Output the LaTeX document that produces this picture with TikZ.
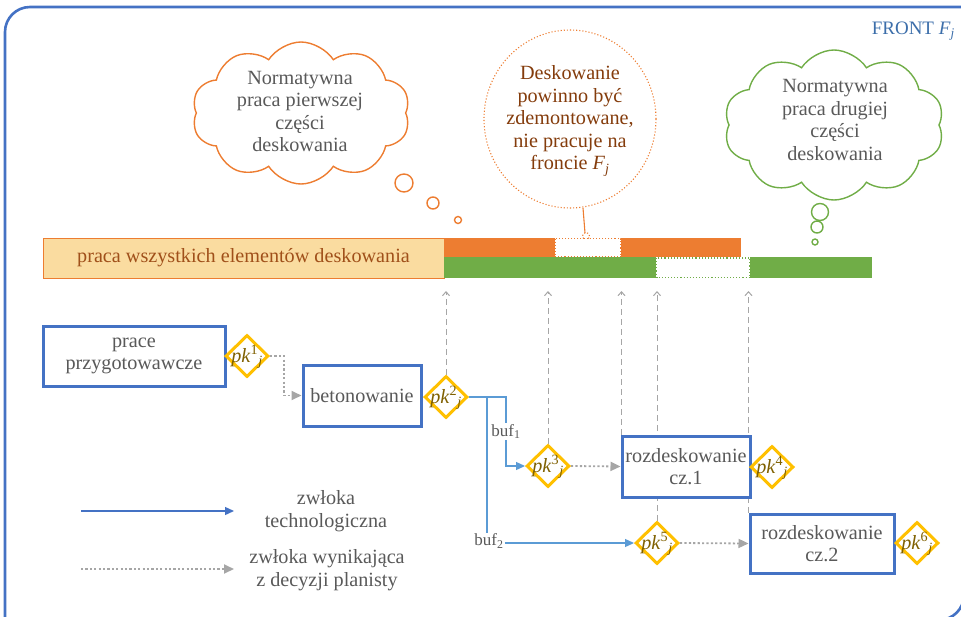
\documentclass[tikz,border=0pt]{standalone}
\usepackage{fontspec}
\setmainfont{Liberation Serif}
\usetikzlibrary{shapes.symbols,shapes.geometric,arrows.meta,calc,backgrounds}
\definecolor{frameblue}{HTML}{4472C4}
\definecolor{boxblue}{HTML}{4472C4}
\definecolor{lineblue}{HTML}{5B9BD5}
\definecolor{orng}{HTML}{ED7D31}
\definecolor{grn}{HTML}{70AD47}
\definecolor{beige}{HTML}{FADCA0}
\definecolor{txtgray}{HTML}{595959}
\definecolor{brn}{HTML}{843C0C}
\definecolor{barbrn}{HTML}{A0501A}
\definecolor{gld}{HTML}{FFC000}
\definecolor{gldtxt}{HTML}{7F6000}
\definecolor{lgray}{HTML}{A6A6A6}
\definecolor{titleblue}{HTML}{3C6EAA}
\newcommand\fs{\fontsize{20.2}{22.5}\selectfont}
\newcommand\fst{\fontsize{19}{22}\selectfont}
\newcommand\fsb{\fontsize{17}{20}\selectfont}
\newcommand\pkj[1]{\raisebox{-0.3em}[0pt][0pt]{\makebox[0pt]{\textit{pk}\textsuperscript{#1}\textsubscript{\textit{j}}}}}
\tikzset{
  procbox/.style={draw=boxblue, line width=3pt, fill=white, text=txtgray, align=center, inner sep=0pt, font=\fs},
  pkd/.style={diamond, draw=gld, line width=3pt, fill=white, minimum width=43pt, minimum height=42pt, inner sep=0pt, text=gldtxt, font=\fs},
  techline/.style={draw=lineblue, line width=1.3pt},
  techarrow/.style={techline, -{Triangle[length=9pt,width=8pt]}},
  planarrow/.style={draw=lgray, line width=1.8pt, dash pattern=on 2.2pt off 2.2pt, -{Triangle[length=10pt,width=9pt]}},
  vdash/.style={draw=lgray, line width=1pt, dash pattern=on 6pt off 4pt, -{Straight Barb[length=4pt,width=7pt]}},
  buflabel/.style={fill=white, text=txtgray, font=\fsb, inner sep=1pt},
  txt/.style={text=txtgray, align=center, font=\fs},
  cloudshape/.style={cloud, cloud puffs=10, cloud puff arc=115, cloud ignores aspect, line width=1.4pt, inner sep=0pt},
}
\begin{document}
\begin{tikzpicture}[x=1pt,y=-1pt]
\useasboundingbox (0,0) rectangle (961,616);
\begin{scope}
\clip (0,0) rectangle (961,616);
\draw[frameblue, line width=2.6pt] (5,630) -- (5,32) arc[start angle=180, end angle=90, radius=25pt] -- (966,7) -- (964,595) arc[start angle=0, end angle=-90, radius=25pt] -- (939,620) -- (5,620);
\end{scope}

% title
\node[anchor=east, text=titleblue, font=\fst, inner sep=0pt] (title) at (955,31) {FRONT \textit{F}\textsubscript{\textit{j}}};

% cloud 1
\node[cloudshape, draw=orng, minimum width=218pt, minimum height=142pt] (cloudA) at (301,113) {};
\node[txt] (cloudAtext) at (300,111.5) {Normatywna\\praca pierwszej\\części\\deskowania};
\draw[orng, line width=1.4pt] (404,183) circle (9pt);
\draw[orng, line width=1.4pt] (433,203) circle (6pt);
\draw[orng, line width=1.4pt] (458,220) circle (3.5pt);

% cloud 2
\node[cloudshape, draw=grn, minimum width=220pt, minimum height=150pt] (cloudB) at (834,125) {};
\node[txt] (cloudBtext) at (835,120) {Normatywna\\praca drugiej\\części\\deskowania};
\draw[grn, line width=1.4pt] (820,212) circle (8.5pt);
\draw[grn, line width=1.4pt] (817,227) circle (6pt);
\draw[grn, line width=1.4pt] (815,242) circle (3pt);

% dotted callout circle
\draw[orng, line width=1.1pt, dotted] (570,119) ellipse [x radius=86pt, y radius=89pt];
\node[align=center, text=brn, font=\fs] (callouttext) at (570,121) {Deskowanie\\powinno być\\zdemontowane,\\nie pracuje na\\froncie \textit{F}\textsubscript{\textit{j}}};
\draw[orng, line width=1.1pt] (583,208) -- (585,233);
\draw[orng, line width=1.1pt, dotted] (586,236) circle (3.5pt);

% bars
\node[draw=orng, line width=1pt, fill=beige, minimum width=401pt, minimum height=40pt, inner sep=0pt, text=barbrn, font=\fs] (allbar) at (243.5,258) {praca wszystkich elementów deskowania};
\fill[orng] (444,238) rectangle (555,257);
\draw[orng, line width=1.1pt, dotted, fill=white] (555,238.5) rectangle (621,257);
\fill[orng] (621,238) rectangle (741,257);
\fill[grn] (444,257) rectangle (656,278);
\draw[grn, line width=1.1pt, dotted, fill=white] (656.5,258) rectangle (750,277.5);
\fill[grn] (750,257) rectangle (872,278);

% process boxes
\node[procbox, minimum width=182pt, minimum height=60pt] (prep) at (134,356) {prace\\przygotowawcze};
\node[pkd] (pk1) at (247,356) {\pkj{1}};
\node[procbox, minimum width=118pt, minimum height=61pt] (beton) at (362,395.5) {betonowanie};
\node[pkd] (pk2) at (446,397) {\pkj{2}};
\node[pkd] (pk3) at (548,466) {\pkj{3}};
\node[procbox, minimum width=128pt, minimum height=61pt] (rozd1) at (686,466.5) {rozdeskowanie\\cz.1};
\node[pkd] (pk4) at (772,467) {\pkj{4}};
\node[pkd] (pk5) at (657,543) {\pkj{5}};
\node[procbox, minimum width=144pt, minimum height=59pt] (rozd2) at (822,543.5) {rozdeskowanie\\cz.2};
\node[pkd] (pk6) at (917,543) {\pkj{6}};

% connectors
\draw[planarrow] (pk1.east) -- ++(14,0) |- (beton.west);
\draw[techarrow] (pk2.east) -- ++(37,0) |- node[pos=0.25, buflabel] (buf1) {buf\textsubscript{1}} (pk3.west);
\coordinate (split) at ($(pk2.east)+(18,0)$);
\node[buflabel] (buf2) at (489,541) {buf\textsubscript{2}};
\draw[techline] (split) -- (split |- buf2.north);
\draw[techarrow] (buf2.east |- pk5.west) -- (pk5.west);
\draw[planarrow] (pk3.east) -- (rozd1.west);
\draw[planarrow] (pk5.east) -- (rozd2.west);

% vertical dashed links to bars
\coordinate (tipline) at (0,291);
\begin{scope}[on background layer]
\draw[vdash] (pk2.north) -- (pk2.north |- tipline);
\draw[vdash] (pk3.north) -- (pk3.north |- tipline);
\draw[vdash] ($(rozd1.north west)+(1,0)$) coordinate (r1nw) -- (r1nw |- tipline);
\draw[vdash] (pk5.north) -- (pk5.north |- tipline);
\draw[vdash] (rozd2.north west) -- (rozd2.north west |- tipline);
\end{scope}

% legend
\coordinate (la1) at (81,511);
\coordinate (la2) at (234,511);
\draw[techarrow, draw=boxblue] (la1) -- (la2);
\node[txt] (lt1) at (326,511) {zwłoka\\technologiczna};
\coordinate (lb1) at (81,569);
\coordinate (lb2) at (234,569);
\draw[planarrow] (lb1) -- (lb2);
\node[txt] (lt2) at (327,570) {zwłoka wynikająca\\z decyzji planisty};
\end{tikzpicture}
\end{document}
